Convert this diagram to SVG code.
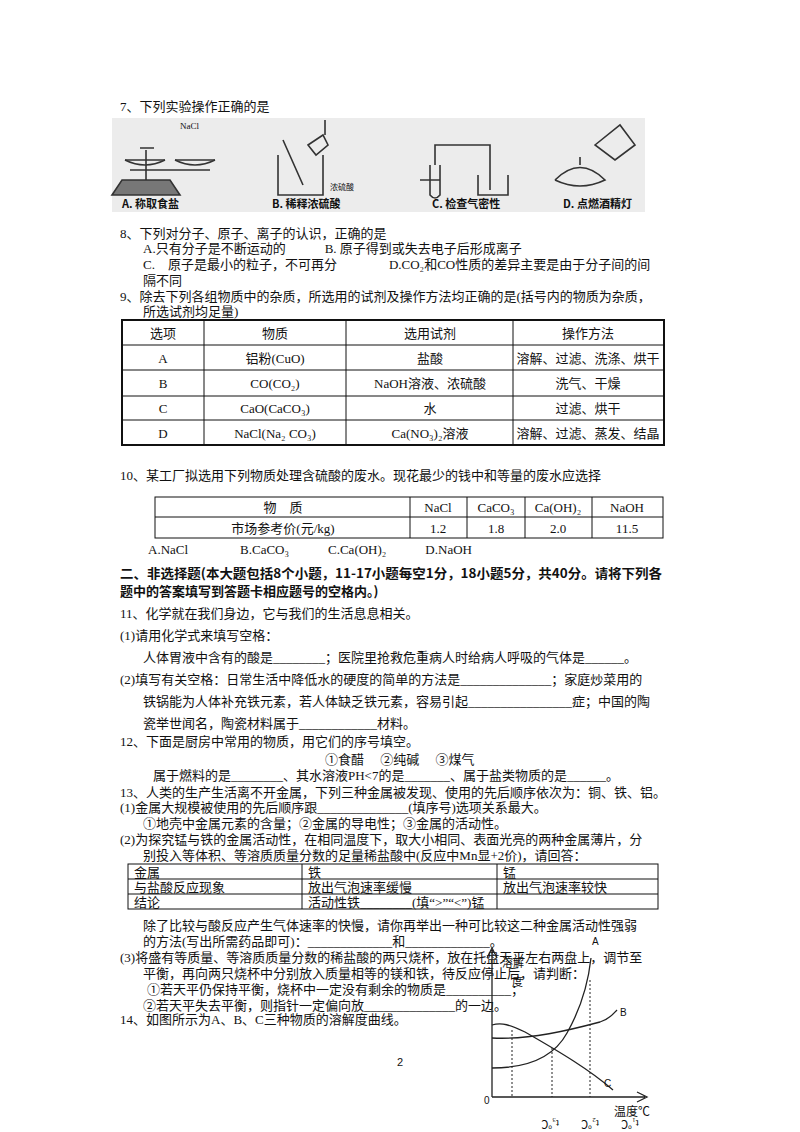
<svg xmlns="http://www.w3.org/2000/svg" width="800" height="1132" viewBox="0 0 800 1132">
<style>
text{font-family:"Liberation Serif","Noto Sans CJK SC",serif;font-size:13px;fill:#111}
.b{font-family:"Noto Sans CJK SC",sans-serif;font-size:13px;font-weight:bold}
.lab{font-family:"Noto Sans CJK SC",sans-serif;font-size:11px;font-weight:bold}
.c{text-anchor:middle}
.tb{fill:none;stroke:#111;stroke-width:1}
.tb2{fill:none;stroke:#111;stroke-width:2}
.ln{fill:none;stroke:#222;stroke-width:1.3}
.d{fill:none;stroke:#222;stroke-width:1;stroke-dasharray:2 2}
.sk{fill:none;stroke:#333;stroke-width:1.6}
</style>
<rect width="800" height="1132" fill="#fff"/>
<text x="120" y="111">7、下列实验操作正确的是</text>
<g id="photo">
<rect x="112" y="118" width="533" height="94" fill="#ececec"/>
<g class="sk">
<path d="M122 180 L170 180 L180 195 L112 195 Z" fill="#777"/>
<path d="M125 160 h40 M175 160 h40 M146 150 v30 M140 148 h14 M130 170 h80"/>
<path d="M125 160 q20 10 40 0 M175 160 q20 10 40 0"/>
<path d="M278 155 v40 h45 v-40 M283 140 l20 45 M308 145 l15 -10 l5 10 l-12 10 Z M325 135 v-15"/>
<path d="M430 165 v30 q5 6 10 0 v-30 M435 165 v-20 h55 v45 M478 175 v20 h30 v-20 M420 180 h20"/>
<path d="M555 180 q25 -25 50 0 q-25 12 -50 0 M580 165 v-8 M595 145 l25 -20 l15 20 l-20 15 Z"/>
</g>
<text class="lab" x="122" y="208">A. 称取食盐</text>
<text class="lab" x="272" y="208">B. 稀释浓硫酸</text>
<text class="lab" x="432" y="208">C. 检查气密性</text>
<text class="lab" x="563" y="208">D. 点燃酒精灯</text>
<text x="180" y="129" style="font-size:9px">NaCl</text>
<text x="330" y="190" style="font-size:8px">浓硫酸</text>
</g>
<text x="120" y="238">8、下列对分子、原子、离子的认识，正确的是</text>
<text x="143" y="253">A.只有分子是不断运动的　　　B. 原子得到或失去电子后形成离子</text>
<text x="143" y="269">C.　原子是最小的粒子，不可再分　　　　D.CO₂和CO性质的差异主要是由于分子间的间</text>
<text x="143" y="285">隔不同</text>
<text x="120" y="301">9、除去下列各组物质中的杂质，所选用的试剂及操作方法均正确的是(括号内的物质为杂质，</text>
<text x="143" y="316">所选试剂均足量)</text>
<g id="table9">
<rect class="tb2" x="122" y="320" width="542" height="125"/>
<path class="tb" d="M122 345H664M122 370H664M122 396H664M122 420H664M204 320V445M346 320V445M513 320V445"/>
<g class="c">
<text x="163" y="338">选项</text><text x="275" y="338">物质</text><text x="430" y="338">选用试剂</text><text x="588" y="338">操作方法</text>
<text x="163" y="363">A</text><text x="275" y="363">铝粉(CuO)</text><text x="430" y="363">盐酸</text><text x="588" y="363">溶解、过滤、洗涤、烘干</text>
<text x="163" y="388">B</text><text x="275" y="388">CO(CO₂)</text><text x="430" y="388">NaOH溶液、浓硫酸</text><text x="588" y="388">洗气、干燥</text>
<text x="163" y="413">C</text><text x="275" y="413">CaO(CaCO₃)</text><text x="430" y="413">水</text><text x="588" y="413">过滤、烘干</text>
<text x="163" y="438">D</text><text x="275" y="438">NaCl(Na₂ CO₃)</text><text x="430" y="438">Ca(NO₃)₂溶液</text><text x="588" y="438">溶解、过滤、蒸发、结晶</text>
</g>
</g>
<text x="120" y="480">10、某工厂拟选用下列物质处理含硫酸的废水。现花最少的钱中和等量的废水应选择</text>
<g id="table10">
<rect class="tb" x="155" y="497" width="508" height="41"/>
<path class="tb" d="M155 517H663M410 497V538M467 497V538M525 497V538M592 497V538"/>
<g class="c">
<text x="283" y="512">物　质</text><text x="438" y="512">NaCl</text><text x="496" y="512">CaCO₃</text><text x="558" y="512">Ca(OH)₂</text><text x="627" y="512">NaOH</text>
<text x="283" y="533">市场参考价(元/kg)</text><text x="438" y="533">1.2</text><text x="496" y="533">1.8</text><text x="558" y="533">2.0</text><text x="627" y="533">11.5</text>
</g>
</g>
<text x="148" y="554">A.NaCl　　　　B.CaCO₃　　　C.Ca(OH)₂　　　D.NaOH</text>
<text class="b" x="120" y="578" textLength="542" lengthAdjust="spacingAndGlyphs">二、非选择题(本大题包括8个小题，11-17小题每空1分，18小题5分，共40分。请将下列各</text>
<text class="b" x="120" y="596">题中的答案填写到答题卡相应题号的空格内。)</text>
<text x="120" y="618">11、化学就在我们身边，它与我们的生活息息相关。</text>
<text x="120" y="640">(1)请用化学式来填写空格：</text>
<text x="143" y="662">人体胃液中含有的酸是________；医院里抢救危重病人时给病人呼吸的气体是______。</text>
<text x="120" y="684">(2)填写有关空格：日常生活中降低水的硬度的简单的方法是______________；家庭炒菜用的</text>
<text x="143" y="706">铁锅能为人体补充铁元素，若人体缺乏铁元素，容易引起________________症；中国的陶</text>
<text x="143" y="728">瓷举世闻名，陶瓷材料属于____________材料。</text>
<text x="120" y="746">12、下面是厨房中常用的物质，用它们的序号填空。</text>
<text x="325" y="764">①食醋　 ②纯碱　 ③煤气</text>
<text x="153" y="780">属于燃料的是________、其水溶液PH&lt;7的是_______、属于盐类物质的是______。</text>
<text x="120" y="797">13、人类的生产生活离不开金属，下列三种金属被发现、使用的先后顺序依次为：铜、铁、铝。</text>
<text x="120" y="812">(1)金属大规模被使用的先后顺序跟______________(填序号)选项关系最大。</text>
<text x="143" y="828">①地壳中金属元素的含量；②金属的导电性；③金属的活动性。</text>
<text x="120" y="844">(2)为探究锰与铁的金属活动性，在相同温度下，取大小相同、表面光亮的两种金属薄片，分</text>
<text x="143" y="860">别投入等体积、等溶质质量分数的足量稀盐酸中(反应中Mn显+2价)，请回答：</text>
<g id="table13">
<rect class="tb" x="128" y="864" width="530" height="45"/>
<path class="tb" d="M128 879H658M128 894H658M302 864V909M497 864V909"/>
<text x="134" y="877">金属</text><text x="308" y="877">铁</text><text x="503" y="877">锰</text>
<text x="134" y="892">与盐酸反应现象</text><text x="308" y="892">放出气泡速率缓慢</text><text x="503" y="892">放出气泡速率较快</text>
<text x="134" y="907">结论</text><text x="308" y="907">活动性铁________(填“&gt;”“&lt;”)锰</text>
</g>
<text x="143" y="930">除了比较与酸反应产生气体速率的快慢，请你再举出一种可比较这二种金属活动性强弱</text>
<text x="143" y="946">的方法(写出所需药品即可)：_____________和_____________。</text>
<text x="120" y="962">(3)将盛有等质量、等溶质质量分数的稀盐酸的两只烧杯，放在托盘天平左右两盘上，调节至</text>
<text x="143" y="978">平衡，再向两只烧杯中分别放入质量相等的镁和铁，待反应停止后，请判断：</text>
<text x="147" y="994">①若天平仍保持平衡，烧杯中一定没有剩余的物质是__________；</text>
<text x="143" y="1010">②若天平失去平衡，则指针一定偏向放______________的一边。</text>
<text x="120" y="1024">14、如图所示为A、B、C三种物质的溶解度曲线。</text>
<text x="400" y="1066" class="c" style="font-family:'Liberation Sans',sans-serif;font-size:11px">2</text>
<g id="graph">
<path class="ln" d="M492 1097V950M487 958L492 948L497 958M492 1097H645M637 1092L647 1097L637 1102"/>
<path class="d" d="M512 1030V1097M552 1048V1097M590 980V1097"/>
<path class="ln" d="M492 1068C530 1068 555 1055 567 1033C580 1010 588 985 591 958"/>
<path class="ln" d="M492 1038C530 1040 570 1030 600 1022C610 1019 615 1012 617 1010"/>
<path class="ln" d="M492 1025C502 1022 510 1025 525 1032C560 1052 590 1070 613 1090"/>
<text x="592" y="945" style="font-family:'Liberation Sans',sans-serif;font-size:10px">A</text>
<text x="620" y="1016" style="font-family:'Liberation Sans',sans-serif;font-size:10px">B</text>
<text x="604" y="1087" style="font-family:'Liberation Sans',sans-serif;font-size:10px">C</text>
<text x="484" y="1104" style="font-family:'Liberation Sans',sans-serif;font-size:10px">0</text>
<text x="502" y="967" style="font-size:11px">溶解</text>
<text x="512" y="986" style="font-size:11px">度</text>
<text x="614" y="1116" style="font-size:12px">温度℃</text>
<text transform="rotate(180 590 1124)" x="590" y="1128" class="c" style="font-size:11px">t₁℃　　t₂℃　　t₃℃</text>
</g>
</svg>
